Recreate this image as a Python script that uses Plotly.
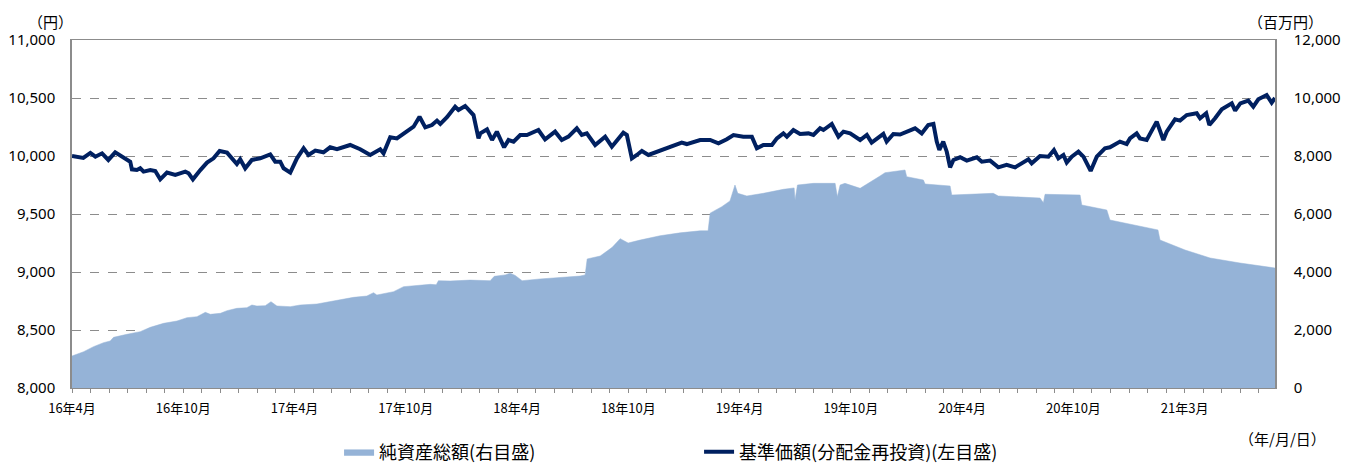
import plotly.graph_objects as go

# ---- data (x = months elapsed since 2016-04) ----
nav_month = [0.00,0.61,0.99,1.26,1.62,1.96,2.33,2.70,2.96,3.14,3.23,3.50,3.68,3.86,4.22,4.49,4.76,5.12,5.57,6.11,
             6.29,6.52,6.92,7.28,7.63,7.96,8.36,8.89,9.07,9.34,9.70,10.15,10.69,10.96,11.23,11.41,11.77,12.13,12.49,12.75,
             13.12,13.56,13.92,14.29,15.00,15.54,16.08,16.62,16.80,17.16,17.52,18.06,18.42,18.74,19.05,19.41,19.68,19.86,20.22,20.66,
             20.84,21.20,21.65,21.92,22.02,22.38,22.65,22.91,23.30,23.54,23.81,24.17,24.53,25.15,25.51,26.05,26.41,26.77,27.22,27.49,
             27.76,28.21,28.75,29.11,29.73,29.92,30.19,30.46,30.73,31.08,31.71,32.25,32.88,33.15,33.87,34.41,34.86,35.31,35.67,36.20,
             36.66,36.93,37.28,37.74,38.01,38.36,38.55,38.90,39.26,39.71,39.98,40.34,40.52,40.97,41.33,41.60,41.96,42.50,42.86,43.12,
             43.75,43.93,44.29,44.65,45.01,45.46,45.82,46.17,46.45,46.63,46.77,46.98,47.17,47.35,47.53,47.89,48.25,48.79,49.06,49.51,
             49.95,50.40,50.85,51.30,51.57,51.75,52.20,52.65,52.95,53.19,53.46,53.64,53.91,54.27,54.54,54.93,55.26,55.70,55.97,56.51,
             56.87,57.05,57.41,57.59,57.95,58.49,58.85,59.03,59.48,59.75,60.11,60.65,60.83,61.16,61.33,61.64,62.00,62.54,62.72,63.00,
             63.43,63.70,63.97,64.42,64.69,64.87]
nav_value = [10000,9983,10026,9994,10023,9966,10032,9994,9966,9951,9885,9879,9894,9865,9879,9871,9799,9857,9836,9865,
             9851,9799,9879,9943,9980,10043,10029,9931,9972,9894,9966,9980,10014,9951,9951,9894,9857,9980,10066,10009,
             10046,10032,10075,10058,10095,10058,10009,10058,10023,10161,10152,10210,10253,10339,10247,10267,10305,10276,10334,10425,
             10397,10431,10353,10152,10195,10230,10138,10210,10075,10138,10124,10181,10181,10224,10144,10210,10138,10167,10239,10181,
             10195,10095,10167,10080,10201,10181,9980,10009,10043,10009,10043,10075,10115,10103,10138,10138,10109,10144,10181,10167,
             10167,10066,10095,10095,10152,10195,10167,10224,10190,10195,10181,10239,10224,10276,10167,10210,10195,10138,10181,10115,
             10190,10124,10190,10185,10210,10239,10195,10267,10276,10124,10052,10124,10037,9902,9966,9989,9960,9989,9951,9960,
             9902,9923,9902,9943,9972,9937,10000,9994,10052,9980,10009,9943,9994,10037,9994,9871,9994,10066,10075,10124,
             10103,10152,10195,10152,10138,10296,10138,10210,10316,10305,10353,10368,10325,10368,10267,10325,10402,10454,10391,10454,
             10477,10425,10489,10526,10460,10500]

aum_month = [0.00,0.63,1.16,1.70,2.06,2.24,2.96,3.68,4.22,4.94,5.66,6.20,6.74,7.19,7.46,8.00,8.36,8.89,9.43,9.70,
             9.97,10.42,10.73,11.05,11.77,12.31,13.21,13.75,14.46,15.18,15.90,16.26,16.44,17.34,17.88,18.78,19.32,19.64,19.76,20.39,
             21.47,22.55,22.77,23.36,23.63,23.90,24.27,25.24,26.32,27.40,27.67,27.78,28.48,29.13,29.56,29.99,30.63,31.71,32.79,33.87,
             34.30,34.41,35.04,35.48,35.75,35.90,36.39,37.28,38.36,38.94,38.99,39.12,39.98,41.15,41.27,41.42,41.68,42.50,43.57,43.84,
             44.92,45.01,45.91,46.00,47.35,47.44,49.68,49.95,52.20,52.38,52.47,54.36,54.45,55.80,55.97,57.05,58.13,58.56,58.67,60.02,
             61.37,62.98,64.87]
aum_value = [1103,1252,1425,1563,1621,1747,1851,1943,2092,2230,2310,2425,2460,2609,2540,2575,2667,2747,2770,2862,
             2828,2839,2977,2828,2805,2862,2897,2954,3034,3126,3172,3287,3207,3322,3494,3540,3575,3560,3700,3690,
             3720,3700,3850,3900,3960,3880,3700,3760,3800,3860,3900,4450,4550,4850,5150,5000,5100,5250,5350,5420,
             5420,6030,6253,6450,7000,6713,6621,6713,6851,6900,6483,7000,7057,7057,6597,7000,7057,6886,7310,7424,
             7517,7287,7172,7034,6966,6655,6713,6621,6550,6390,6679,6655,6310,6138,5793,5650,5517,5450,5103,4759,
             4483,4310,4138]

tick_months = list(range(0, 65))
tick_labels = {0: "16年4月", 6: "16年10月", 12: "17年4月", 18: "17年10月", 24: "18年4月", 30: "18年10月",
               36: "19年4月", 42: "19年10月", 48: "20年4月", 54: "20年10月", 60: "21年3月"}

JP = "Noto Sans CJK JP"
LINE_COLOR = "#002060"
AREA_COLOR = "#95B3D7"
GRID = "#8c8c8c"

fig = go.Figure()
fig.add_trace(go.Scatter(
    x=nav_month, y=nav_value, mode="lines", name="基準価額(分配金再投資)(左目盛)",
    line=dict(color=LINE_COLOR, width=4), yaxis="y", legendrank=2))
fig.add_trace(go.Scatter(
    x=aum_month, y=aum_value, mode="lines", name="純資産総額(右目盛)", fill="tozeroy",
    fillcolor=AREA_COLOR, line=dict(color=AREA_COLOR, width=0.5, shape="linear"),
    yaxis="y2", legendrank=1))

# page body has an 8px margin, so the figure is sized/placed to compensate
fig.update_layout(
    width=1348, height=455,
    margin=dict(l=64, r=81, t=32, b=75, autoexpand=False),
    paper_bgcolor="white", plot_bgcolor="white",
    font=dict(family=JP, size=14, color="#000000"),
    showlegend=True,
    legend=dict(orientation="h", x=0.222, xanchor="left", y=-0.184, yanchor="middle",
                font=dict(family=JP, size=18, color="#000"), entrywidth=315, entrywidthmode="pixels",
                bgcolor="rgba(0,0,0,0)", itemwidth=30, tracegroupgap=0),
    xaxis=dict(range=[0, 64.87], tickmode="array", tickvals=tick_months,
               ticktext=[tick_labels.get(m, "") for m in tick_months],
               ticks="outside", ticklen=4, tickcolor=GRID, tickwidth=1,
               showline=True, linecolor=GRID, linewidth=1, mirror=True,
               showgrid=False, zeroline=False, automargin=False,
               tickfont=dict(family=JP, size=13, color="#000"), ticklabelstandoff=4),
    yaxis=dict(range=[8000, 11000], tickmode="linear", tick0=8000, dtick=500, tickformat=",",
               showline=True, linecolor=GRID, linewidth=1.5, automargin=False,
               showgrid=True, gridcolor=GRID, griddash="dash", gridwidth=1, zeroline=False,
               ticks="", tickfont=dict(family="Noto Sans", size=15, color="#000"), ticklabelstandoff=12),
    yaxis2=dict(range=[0, 12000], tickmode="linear", tick0=0, dtick=2000, tickformat=",",
                overlaying="y", side="right", showline=True, linecolor=GRID, linewidth=1.5,
                showgrid=False, zeroline=False, ticks="", automargin=False,
                tickfont=dict(family="Noto Sans", size=15, color="#000"), ticklabelstandoff=14),
    annotations=[
        dict(text="（円）", xref="paper", yref="paper", x=-0.018, y=1.09, xanchor="center", yanchor="top",
             showarrow=False, font=dict(family=JP, size=15)),
        dict(text="（百万円）", xref="paper", yref="paper", x=1.009, y=1.09, xanchor="center", yanchor="top",
             showarrow=False, font=dict(family=JP, size=15)),
        dict(text="（年/月/日）", xref="paper", yref="paper", x=1.006, y=-0.144, xanchor="center", yanchor="middle",
             showarrow=False, font=dict(family=JP, size=15)),
    ],
)

fig.write_html("out.html")
